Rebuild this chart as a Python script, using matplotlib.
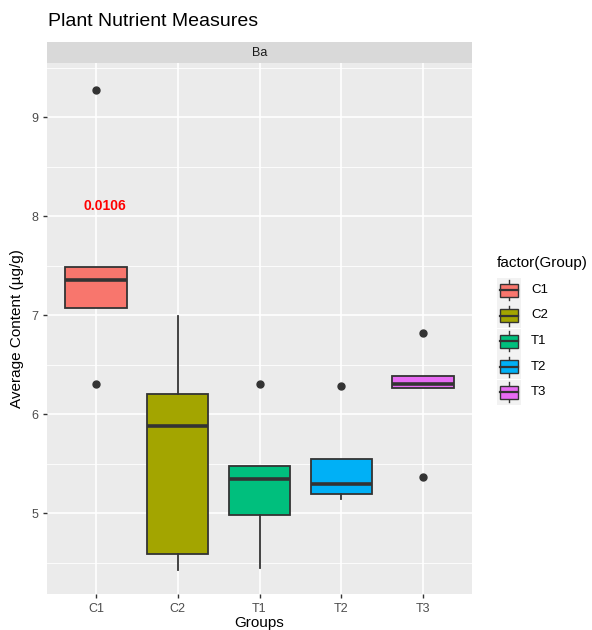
import matplotlib.pyplot as plt
from matplotlib.patches import Rectangle

plt.rcParams["font.family"] = ["Liberation Sans", "DejaVu Sans"]

# Summary statistics per group (Ba, µg/g)
groups = ["C1", "C2", "T1", "T2", "T3"]
colors = ["#F8766D", "#A3A500", "#00BF7D", "#00B0F6", "#E76BF3"]
q1 = [7.07, 4.59, 4.98, 5.20, 6.27]
medians = [7.36, 5.88, 5.35, 5.30, 6.31]
q3 = [7.49, 6.21, 5.48, 5.55, 6.39]
whislo = [7.07, 4.43, 4.45, 5.14, 6.27]
whishi = [7.49, 6.99, 5.48, 5.55, 6.39]
outliers = [[9.28, 6.31], [], [6.31], [6.29], [6.82, 5.37]]
p_label = "0.0106"
p_label_y = 8.11

W, H = 592, 630
fig = plt.figure(figsize=(W / 100, H / 100), dpi=100)

def frac(x0, y0, x1, y1):
    return [x0 / W, 1 - y1 / H, (x1 - x0) / W, (y1 - y0) / H]

ax = fig.add_axes(frac(47, 63, 472, 594))
ax.set_facecolor("#EBEBEB")
for s in ax.spines.values():
    s.set_visible(False)

stats = []
for i, g in enumerate(groups):
    stats.append(dict(label=g, q1=q1[i], med=medians[i], q3=q3[i],
                      whislo=whislo[i], whishi=whishi[i], fliers=outliers[i]))

pos = list(range(1, len(groups) + 1))
bp = ax.bxp(stats, positions=pos, widths=0.75, patch_artist=True, showcaps=False,
            boxprops=dict(edgecolor="#333333", linewidth=1.3),
            medianprops=dict(color="#333333", linewidth=2.6),
            whiskerprops=dict(color="#333333", linewidth=1.3),
            flierprops=dict(marker="o", markerfacecolor="#333333", markeredgecolor="#333333",
                            markersize=5))
for patch, c in zip(bp["boxes"], colors):
    patch.set_facecolor(c)
for art in bp["boxes"] + bp["medians"] + bp["whiskers"] + bp["fliers"]:
    art.set_zorder(3)

ax.text(1.11, p_label_y, p_label, color="red", fontweight="bold", fontsize=10,
        ha="center", va="center", zorder=4)

ax.set_xlim(0.4, 5.6)
ax.set_ylim(4.185, 9.55)
ax.set_yticks([5, 6, 7, 8, 9])
ax.set_yticks([4.5, 5.5, 6.5, 7.5, 8.5, 9.5], minor=True)
ax.set_xticks(pos)
ax.set_xticklabels(groups)
ax.grid(which="major", color="white", linewidth=1.2, zorder=0)
ax.grid(which="minor", axis="y", color="white", linewidth=0.6, zorder=0)
ax.set_axisbelow(True)
ax.tick_params(axis="both", which="major", colors="#333333", labelcolor="#4D4D4D",
               labelsize=9, length=3, width=1)
ax.tick_params(which="minor", length=0)
ax.set_xlabel("Groups", fontsize=11, color="black", labelpad=1)
ax.set_ylabel("Average Content (µg/g)", fontsize=11, color="black", labelpad=5)

# facet strip
strip = fig.add_axes(frac(47, 42, 472, 63))
strip.set_facecolor("#D9D9D9")
strip.set_xticks([])
strip.set_yticks([])
for s in strip.spines.values():
    s.set_visible(False)
strip.text(0.5, 0.5, "Ba", ha="center", va="center", fontsize=9, color="#1A1A1A",
           transform=strip.transAxes)

fig.text(48 / W, 1 - 21 / H, "Plant Nutrient Measures", fontsize=14, ha="left", va="center")

# legend
lg = fig.add_axes(frac(490, 250, 592, 410))
lg.set_xlim(490, 592)
lg.set_ylim(410, 250)
lg.axis("off")
lg.text(497, 263, "factor(Group)", fontsize=11, ha="left", va="center")
for i, (g, c) in enumerate(zip(groups, colors)):
    yc = 290 + i * 25.5
    lg.add_patch(Rectangle((497, yc - 12.5), 24, 25, facecolor="#F2F2F2", edgecolor="none"))
    lg.plot([509, 509], [yc - 10, yc + 10], color="#333333", lw=1)
    lg.add_patch(Rectangle((500, yc - 6.5), 18, 13, facecolor=c, edgecolor="#333333", lw=1, zorder=3))
    lg.plot([500, 518], [yc, yc], color="#333333", lw=1.6, zorder=4)
    lg.text(531, yc, g, fontsize=9.5, ha="left", va="center")

fig.savefig("out.png", dpi=100)
